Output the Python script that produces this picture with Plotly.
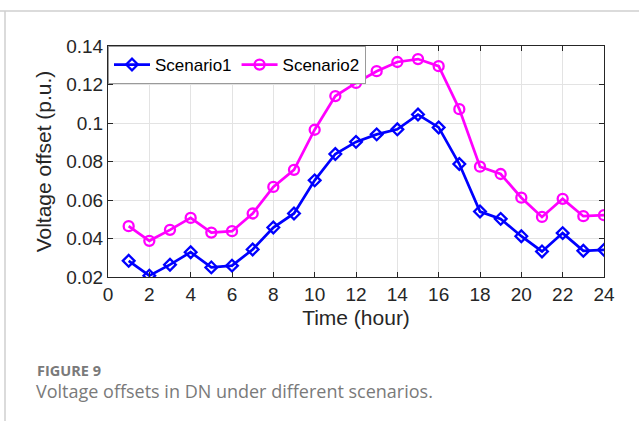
import plotly.graph_objects as go

hours = list(range(1, 25))
scenario1 = [0.0284, 0.0207, 0.0264, 0.0329, 0.0250, 0.0259, 0.0343, 0.0457, 0.0530, 0.0702,
             0.0839, 0.0902, 0.0941, 0.0967, 0.1044, 0.0977, 0.0787, 0.0540, 0.0502, 0.0412,
             0.0333, 0.0428, 0.0336, 0.0341]
scenario2 = [0.0464, 0.0388, 0.0445, 0.0507, 0.0431, 0.0438, 0.0530, 0.0668, 0.0757, 0.0965,
             0.1140, 0.1208, 0.1269, 0.1317, 0.1332, 0.1295, 0.1072, 0.0773, 0.0735, 0.0612,
             0.0512, 0.0606, 0.0516, 0.0521]
x_ticks = list(range(0, 25, 2))
y_ticks = [0.02, 0.04, 0.06, 0.08, 0.1, 0.12, 0.14]
y_tick_labels = ["0.02", "0.04", "0.06", "0.08", "0.1", "0.12", "0.14"]

FONT = "Liberation Sans, Arial, sans-serif"

fig = go.Figure()
fig.add_trace(go.Scatter(
    x=hours, y=scenario1, name="Scenario1", mode="lines+markers",
    line=dict(color="#0000ff", width=2.7),
    marker=dict(symbol="diamond-open", size=9, color="#0000ff", line=dict(width=2.3, color="#0000ff")),
))
fig.add_trace(go.Scatter(
    x=hours, y=scenario2, name="Scenario2", mode="lines+markers",
    line=dict(color="#ff00ff", width=2.7),
    marker=dict(symbol="circle-open", size=10, color="#ff00ff", line=dict(width=2.3, color="#ff00ff")),
))

axis_common = dict(
    showgrid=True, gridcolor="#e3e3e3", gridwidth=1,
    showline=True, linecolor="#262626", linewidth=1, mirror="ticks",
    ticks="inside", ticklen=5, tickcolor="#262626", tickwidth=1,
    zeroline=False,
    tickfont=dict(family=FONT, size=19, color="#262626"),
)

fig.update_layout(
    width=639, height=421,
    margin=dict(l=108, r=35, t=46, b=144),
    paper_bgcolor="white", plot_bgcolor="white",
    xaxis=dict(range=[0, 24], tickvals=x_ticks,
               title=dict(text="Time (hour)", font=dict(family=FONT, size=21, color="#262626"), standoff=6),
               **axis_common),
    yaxis=dict(range=[0.02, 0.14], tickvals=y_ticks, ticktext=y_tick_labels,
               title=dict(text="Voltage offset (p.u.)", font=dict(family=FONT, size=21, color="#262626"), standoff=8),
               **axis_common),
    legend=dict(orientation="h", x=0, y=1, xanchor="left", yanchor="top",
                bgcolor="white", bordercolor="#9a9a9a", borderwidth=1,
                font=dict(family=FONT, size=17, color="#000000"),
                itemwidth=36, tracegroupgap=0),
    showlegend=True,
)

# Page frame lines
fig.add_shape(type="line", xref="paper", yref="paper", x0=-108/496, x1=(639-108)/496,
              y0=1 + 35/231, y1=1 + 35/231, line=dict(color="#cfcfcf", width=1.5))
fig.add_shape(type="line", xref="paper", yref="paper", x0=-103/496, x1=-103/496,
              y0=1 + 35/231, y1=-144/231, line=dict(color="#cfcfcf", width=1.5))

# Caption
fig.add_annotation(text="<b>FIGURE 9</b>", xref="paper", yref="paper",
                   x=-73/496, y=-(370-277)/231, xanchor="left", yanchor="middle", showarrow=False,
                   font=dict(family="Open Sans, sans-serif", size=14.5, color="#7a7a7a"))
fig.add_annotation(text="Voltage offsets in DN under different scenarios.", xref="paper", yref="paper",
                   x=-74/496, y=-(391-277)/231, xanchor="left", yanchor="middle", showarrow=False,
                   font=dict(family="Open Sans, sans-serif", size=18, color="#7a7a7a"))

fig.write_html("out.html")
